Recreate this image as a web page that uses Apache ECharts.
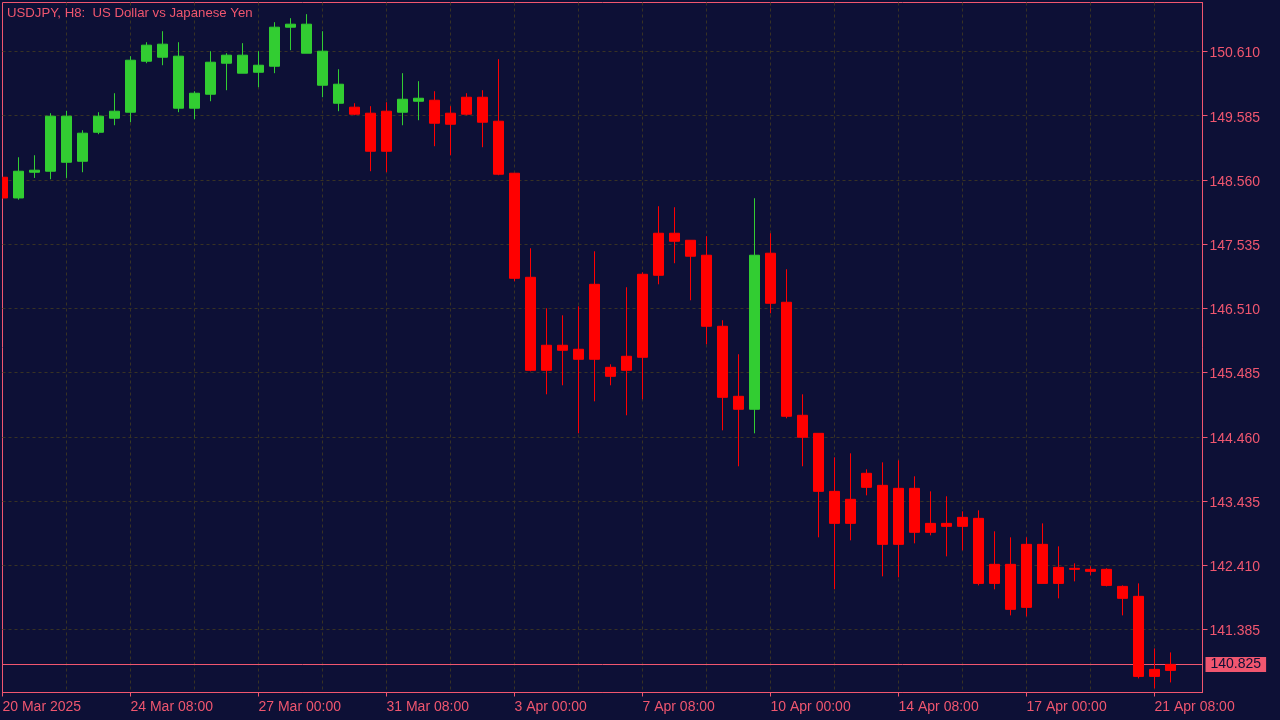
<!DOCTYPE html>
<html>
<head>
<meta charset="utf-8">
<script src="https://cdn.jsdelivr.net/npm/echarts@6/dist/echarts.min.js"></script>
<style>
html,body{margin:0;padding:0;background:#0d1036;}
#chart{width:1280px;height:720px;}
</style>
</head>
<body>
<div id="chart"></div>
<script>
const categories = [
'2025.03.20 00:00','2025.03.20 08:00','2025.03.20 16:00','2025.03.21 00:00','2025.03.21 08:00','2025.03.21 16:00',
'2025.03.23 16:00','2025.03.24 00:00','2025.03.24 08:00','2025.03.24 16:00','2025.03.25 00:00','2025.03.25 08:00',
'2025.03.25 16:00','2025.03.26 00:00','2025.03.26 08:00','2025.03.26 16:00','2025.03.27 00:00','2025.03.27 08:00',
'2025.03.27 16:00','2025.03.28 00:00','2025.03.28 08:00','2025.03.28 16:00','2025.03.30 16:00','2025.03.31 00:00',
'2025.03.31 08:00','2025.03.31 16:00','2025.04.01 00:00','2025.04.01 08:00','2025.04.01 16:00','2025.04.02 00:00',
'2025.04.02 08:00','2025.04.02 16:00','2025.04.03 00:00','2025.04.03 08:00','2025.04.03 16:00','2025.04.04 00:00',
'2025.04.04 08:00','2025.04.04 16:00','2025.04.06 16:00','2025.04.07 00:00','2025.04.07 08:00','2025.04.07 16:00',
'2025.04.08 00:00','2025.04.08 08:00','2025.04.08 16:00','2025.04.09 00:00','2025.04.09 08:00','2025.04.09 16:00',
'2025.04.10 00:00','2025.04.10 08:00','2025.04.10 16:00','2025.04.11 00:00','2025.04.11 08:00','2025.04.11 16:00',
'2025.04.13 16:00','2025.04.14 00:00','2025.04.14 08:00','2025.04.14 16:00','2025.04.15 00:00','2025.04.15 08:00',
'2025.04.15 16:00','2025.04.16 00:00','2025.04.16 08:00','2025.04.16 16:00','2025.04.17 00:00','2025.04.17 08:00',
'2025.04.17 16:00','2025.04.18 00:00','2025.04.18 08:00','2025.04.18 16:00','2025.04.20 16:00','2025.04.21 00:00',
'2025.04.21 08:00','2025.04.21 16:00','2025.04.22 00:00','2025.04.22 08:00'
];

const openPrices = [
148.603,148.272,148.683,148.699,148.842,148.858,149.321,149.545,149.641,150.455,
150.519,149.705,149.705,149.928,150.423,150.264,150.279,150.375,150.998,150.583,
150.072,149.784,149.721,149.625,149.657,149.641,149.816,149.832,149.625,149.880,
149.880,149.497,148.667,147.006,145.921,145.921,145.857,146.894,145.569,145.745,
147.054,147.709,147.709,147.597,147.358,146.224,145.106,144.899,147.390,146.607,
144.803,144.515,143.589,143.462,143.877,143.685,143.637,143.637,143.078,143.078,
143.174,143.158,142.424,142.424,142.743,142.743,142.376,142.360,142.344,142.344,
142.072,141.913,140.747,140.827
];
const closePrices = [
148.272,148.699,148.715,149.577,149.577,149.306,149.577,149.657,150.471,150.711,
150.727,150.535,149.944,150.439,150.551,150.551,150.391,150.998,151.046,151.046,
150.615,150.088,149.609,149.018,149.018,149.848,149.864,149.465,149.449,149.609,
149.481,148.651,146.990,145.521,145.521,145.841,145.697,145.697,145.425,145.521,
145.729,147.038,147.581,147.342,146.224,145.090,144.899,147.358,146.591,144.787,
144.452,143.589,143.078,143.078,143.653,142.743,142.743,142.935,142.935,143.030,
143.030,142.120,142.120,141.705,141.737,142.120,142.120,142.344,142.312,142.088,
141.881,140.635,140.635,140.731
];
const lowPrices = [
148.265,148.244,148.592,148.571,148.592,148.683,149.290,149.433,149.481,150.423,
150.391,149.641,149.529,149.816,149.992,150.264,150.040,150.264,150.631,150.583,
149.880,149.657,149.593,148.699,148.683,149.433,149.513,149.098,148.954,149.593,
149.082,148.635,146.942,145.505,145.138,145.282,144.515,145.026,145.282,144.803,
145.058,146.894,147.230,146.639,145.936,144.563,143.989,144.515,146.431,144.755,
143.989,142.855,142.025,142.807,143.525,142.232,142.216,142.759,142.887,142.551,
142.647,142.088,142.025,141.609,141.593,142.120,141.881,142.152,142.248,142.072,
141.609,140.603,140.444,140.539
];
const highPrices = [
148.603,148.922,148.954,149.625,149.662,149.353,149.641,149.944,150.535,150.758,
150.934,150.758,149.976,150.615,150.583,150.743,150.615,151.078,151.142,151.206,
150.934,150.327,149.784,149.737,149.800,150.264,150.136,149.976,149.737,149.944,
149.992,150.487,148.667,147.469,146.511,146.399,146.543,147.421,145.617,146.847,
147.086,148.140,148.124,147.597,147.661,146.320,145.777,148.268,147.709,147.134,
145.138,144.515,144.132,144.196,143.941,144.052,144.084,143.829,143.589,143.510,
143.270,143.286,142.951,142.855,142.855,143.078,142.711,142.440,142.392,142.360,
142.088,142.120,141.082,141.018
];
const yTicks = [141.385,142.410,143.435,144.460,145.485,146.510,147.535,148.560,149.585,150.610];
const currentPrice = 140.825;
const yMin = 140.3781, yMax = 151.3922;
const months = ['Jan','Feb','Mar','Apr','May','Jun','Jul','Aug','Sep','Oct','Nov','Dec'];

const candleData = openPrices.map((o, i) => [o, closePrices[i], lowPrices[i], highPrices[i]]);
// current (bid) price line spans the whole chart width
const priceLineData = [[categories[0], currentPrice], [categories[categories.length - 1], currentPrice]];

const BG = '#0d1036';
const PINK = '#f0566f';
const GRID = '#383224';
const FONT = 'Liberation Sans';

function fmtCat(s, idx) {
  const [d, t] = s.split(' ');
  const [y, m, dd] = d.split('.');
  const day = parseInt(dd, 10) + ' ' + months[parseInt(m, 10) - 1];
  return idx === 0 ? day + ' ' + y : day + ' ' + t;
}

const chart = echarts.init(document.getElementById('chart'), null, {renderer: 'canvas'});
chart.setOption({
  backgroundColor: BG,
  animation: false,
  title: {
    text: 'USDJPY, H8:  US Dollar vs Japanese Yen',
    left: 7, top: 7, padding: 0,
    textStyle: {color: PINK, fontSize: 13.2, fontWeight: 'normal', fontFamily: FONT}
  },
  grid: {
    left: 2.5, right: 77.5, top: 2.5, bottom: 27.5,
    show: true, borderColor: PINK, borderWidth: 1, backgroundColor: 'transparent',
    containLabel: false, outerBoundsMode: 'none'
  },
  // thin mask left of the chart frame so the first, partly visible candle is cut at the frame
  graphic: [{
    type: 'rect', left: 0, top: 0, z: 100, silent: true,
    shape: {width: 2, height: 693},
    style: {fill: BG}
  }],
  xAxis: {
    type: 'category',
    data: categories,
    boundaryGap: false,
    axisLine: {show: true, lineStyle: {color: PINK, width: 1}},
    axisTick: {show: true, length: 4, interval: (i) => i % 8 === 0, lineStyle: {color: PINK}},
    axisLabel: {
      show: true, interval: (i) => i % 8 === 0, align: 'left', margin: 8,
      color: PINK, fontSize: 14, fontFamily: FONT,
      formatter: (v, idx) => fmtCat(v, idx)
    },
    splitLine: {show: true, interval: (i) => i % 4 === 0 && i > 0, lineStyle: {color: GRID, type: [3, 3], width: 1}}
  },
  yAxis: {
    type: 'value',
    position: 'right',
    min: yMin, max: yMax,
    scale: true,
    axisLine: {show: true, lineStyle: {color: PINK, width: 1}},
    axisTick: {show: true, length: 5, customValues: yTicks, lineStyle: {color: PINK}},
    axisLabel: {
      show: true, customValues: yTicks, margin: 7, color: PINK, fontSize: 14, fontFamily: FONT,
      formatter: (v) => '{a|' + v.toFixed(3) + '}',
      rich: {a: {color: PINK, fontSize: 14, fontFamily: FONT, padding: [4, 0, 0, 0]}}
    },
    splitLine: {show: true, lineStyle: {color: GRID, type: [3, 3], width: 1}}
  },
  series: [{
    type: 'line',
    data: priceLineData,
    z: 1,
    silent: true,
    showSymbol: false,
    symbol: 'none',
    lineStyle: {color: PINK, width: 1, type: 'solid'},
    itemStyle: {color: PINK},
    emphasis: {disabled: true},
    endLabel: {
      show: true, distance: 3,
      formatter: () => currentPrice.toFixed(3),
      backgroundColor: PINK, color: BG, fontSize: 14, fontFamily: FONT,
      padding: [1, 5, 0, 5]
    }
  }, {
    type: 'candlestick',
    data: candleData,
    z: 2,
    barWidth: 10,
    clip: true,
    itemStyle: {
      color: '#32cd32', color0: '#ff0000',
      borderColor: '#32cd32', borderColor0: '#ff0000', borderWidth: 1
    }
  }]
});
</script>
</body>
</html>
